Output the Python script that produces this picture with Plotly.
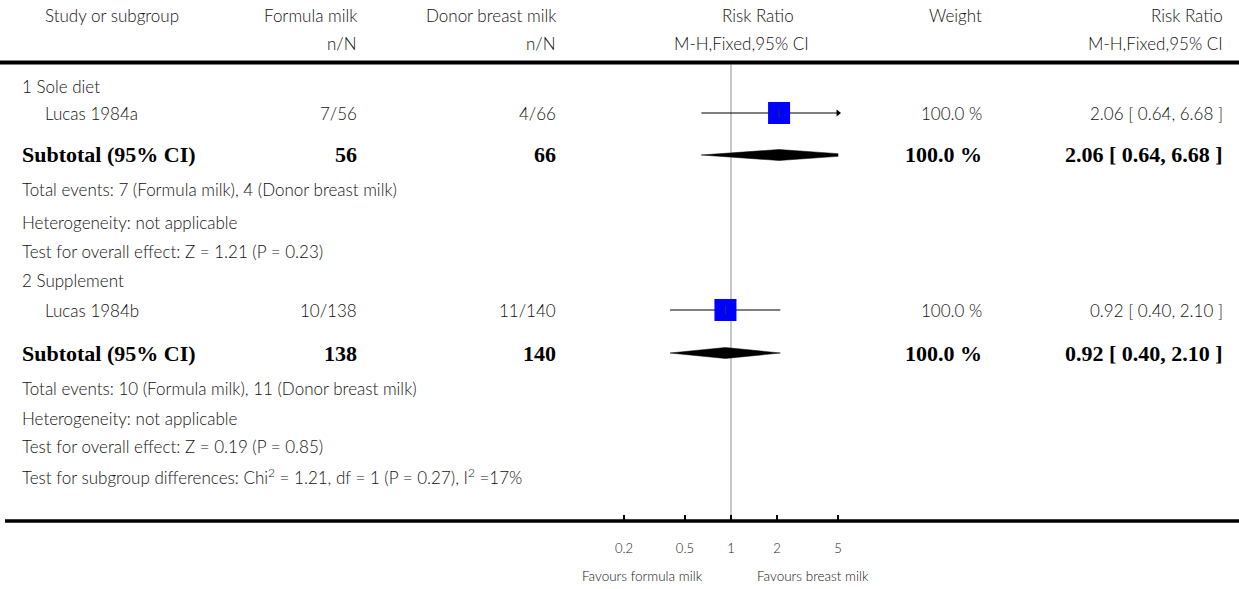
import math
import plotly.graph_objects as go

# ---------------- data ----------------
studies = ["Lucas 1984a", "Lucas 1984b"]
subgroups = ["1 Sole diet", "2 Supplement"]
formula_events = [7, 10]
formula_total = [56, 138]
donor_events = [4, 11]
donor_total = [66, 140]
rr = [2.06, 0.92]
ci_low = [0.64, 0.40]
ci_high = [6.68, 2.10]
weights = [100.0, 100.0]
sub_rr = [2.06, 0.92]
sub_low = [0.64, 0.40]
sub_high = [6.68, 2.10]
sub_weight = [100.0, 100.0]
heterogeneity = ["Heterogeneity: not applicable", "Heterogeneity: not applicable"]
overall_effect = ["Test for overall effect: Z = 1.21 (P = 0.23)",
                  "Test for overall effect: Z = 0.19 (P = 0.85)"]
subgroup_test = "Test for subgroup differences: Chi<sup>2</sup> = 1.21, df = 1 (P = 0.27), I<sup>2</sup> =17%"
tick_vals = [0.2, 0.5, 1, 2, 5]
tick_text = ["0.2", "0.5", "1", "2", "5"]
x_min, x_max = 0.2, 5
label_left = "Favours formula milk"
label_right = "Favours breast milk"

# ---------------- layout (pixels) ----------------
W, H = 1239, 589
AXIS_Y = 521
TOP_LINE_Y = 62.5
block_rows = [
    dict(head=87, study=113, sub=155, events=190, het=222, eff=251),
    dict(head=281, study=310, sub=353, events=388, het=418, eff=447),
]
SUBTEST_Y = 476
FAV_Y = 576

COL_X_LEFT = 20
COL_X_INDENT = 43
COL_FORM_R = 359
COL_DONOR_R = 558
COL_WEIGHT_R = 984
COL_RR_R = 1225

FONT = "Lato"
BOLD = "Liberation Serif"
TXT = "#111111"
FS = 17
FSB = 22

fig = go.Figure()
annots = []


def T(text, xpx, ypx, anchor="left", size=FS, family=FONT, color=TXT):
    annots.append(dict(text=text, x=xpx / W, xref="paper", y=1 - ypx / H, yref="paper",
                       xanchor=anchor, yanchor="middle", showarrow=False,
                       font=dict(family=family, size=size, color=color, weight=300)))


def TB(text, xpx, ypx, anchor="left"):
    annots.append(dict(text=f"<b>{text}</b>", x=xpx / W, xref="paper", y=1 - ypx / H, yref="paper",
                       xanchor=anchor, yanchor="middle", showarrow=False,
                       font=dict(family=BOLD, size=FSB, color="black")))


# headers
T("Study or subgroup", COL_X_INDENT, 15)
T("Formula milk", COL_FORM_R, 15, "right")
T("Donor breast milk", COL_DONOR_R, 15, "right")
T("Risk Ratio", 758, 15, "center")
T("Weight", COL_WEIGHT_R, 15, "right")
T("Risk Ratio", COL_RR_R, 15, "right")
T("n/N", COL_FORM_R, 43, "right")
T("n/N", COL_DONOR_R, 43, "right")
T("M-H,Fixed,95% CI", 741, 43, "center")
T("M-H,Fixed,95% CI", COL_RR_R, 43, "right")

# reference line at RR = 1
fig.add_shape(type="line", xref="x", yref="y", x0=1, x1=1, y0=TOP_LINE_Y + 2, y1=AXIS_Y,
              line=dict(color="#b5b5b5", width=1.5), layer="below")

SQ_MAX = 22
DIA_H = 5.5


def clip(v):
    return min(max(v, x_min), x_max)


for i, rows in enumerate(block_rows):
    T(subgroups[i], COL_X_LEFT, rows["head"])
    T(studies[i], COL_X_INDENT, rows["study"])
    T(f"{formula_events[i]}/{formula_total[i]}", COL_FORM_R, rows["study"], "right")
    T(f"{donor_events[i]}/{donor_total[i]}", COL_DONOR_R, rows["study"], "right")
    T(f"{weights[i]:.1f} %", COL_WEIGHT_R, rows["study"], "right")
    T(f"{rr[i]:.2f} [ {ci_low[i]:.2f}, {ci_high[i]:.2f} ]", COL_RR_R, rows["study"], "right")

    # CI line, cut at the ends of the scale
    fig.add_trace(go.Scatter(x=[clip(ci_low[i]), clip(ci_high[i])], y=[rows["study"]] * 2,
                             mode="lines", line=dict(color="black", width=1.2),
                             hoverinfo="skip", showlegend=False))
    size = SQ_MAX * math.sqrt(weights[i] / 100.0)
    fig.add_trace(go.Scatter(x=[rr[i]], y=[rows["study"]], mode="markers",
                             marker=dict(symbol="square", size=size, color="#0000ff",
                                         line=dict(width=0)),
                             hoverinfo="skip", showlegend=False))
    fig.add_trace(go.Scatter(x=[rr[i]], y=[rows["study"]], mode="markers",
                             marker=dict(symbol="line-ns", size=6,
                                         line=dict(width=1, color="#333333")),
                             hoverinfo="skip", showlegend=False))
    if ci_high[i] > x_max:
        fig.add_trace(go.Scatter(x=[x_max], y=[rows["study"]], mode="markers", cliponaxis=False,
                                 marker=dict(symbol="triangle-right", size=6, color="black"),
                                 hoverinfo="skip", showlegend=False))
    if ci_low[i] < x_min:
        fig.add_trace(go.Scatter(x=[x_min], y=[rows["study"]], mode="markers", cliponaxis=False,
                                 marker=dict(symbol="triangle-left", size=6, color="black"),
                                 hoverinfo="skip", showlegend=False))

    TB("Subtotal (95% CI)", COL_X_LEFT, rows["sub"])
    TB(f"{formula_total[i]}", COL_FORM_R, rows["sub"], "right")
    TB(f"{donor_total[i]}", COL_DONOR_R, rows["sub"], "right")
    TB(f"{sub_weight[i]:.1f} %", COL_WEIGHT_R, rows["sub"], "right")
    TB(f"{sub_rr[i]:.2f} [ {sub_low[i]:.2f}, {sub_high[i]:.2f} ]", COL_RR_R, rows["sub"], "right")

    # diamond, cut at the ends of the scale (in log space)
    y0 = rows["sub"]
    lo, est, hi = (math.log10(v) for v in (sub_low[i], sub_rr[i], sub_high[i]))
    lmin, lmax = math.log10(x_min), math.log10(x_max)
    xs, ys = [], []
    # upper edge left->right then lower edge right->left
    def half(xl):
        if xl <= est:
            return DIA_H * (xl - lo) / (est - lo)
        return DIA_H * (hi - xl) / (hi - est)
    xl_lo, xl_hi = max(lo, lmin), min(hi, lmax)
    pts_top = [xl_lo, est, xl_hi]
    top = [(x, y0 - half(x)) for x in pts_top]
    bot = [(x, y0 + half(x)) for x in reversed(pts_top)]
    poly = top + bot + [top[0]]
    fig.add_trace(go.Scatter(x=[10 ** p[0] for p in poly], y=[p[1] for p in poly],
                             mode="lines", fill="toself", fillcolor="black",
                             line=dict(color="black", width=0.5),
                             hoverinfo="skip", showlegend=False))

    T(f"Total events: {formula_events[i]} (Formula milk), {donor_events[i]} (Donor breast milk)",
      COL_X_LEFT, rows["events"])
    T(heterogeneity[i], COL_X_LEFT, rows["het"])
    T(overall_effect[i], COL_X_LEFT, rows["eff"])

T(subgroup_test, COL_X_LEFT, SUBTEST_Y)

# horizontal rules
fig.add_shape(type="line", xref="paper", yref="paper", x0=0, x1=1,
              y0=1 - TOP_LINE_Y / H, y1=1 - TOP_LINE_Y / H, line=dict(color="black", width=4))
fig.add_shape(type="line", xref="paper", yref="paper", x0=5 / W, x1=1,
              y0=1 - AXIS_Y / H, y1=1 - AXIS_Y / H, line=dict(color="black", width=3.5))

T(label_left, 642, FAV_Y, "center", size=13.5)
T(label_right, 813, FAV_Y, "center", size=13.5)

eps = 0.0095  # ~1.5 px so the end ticks are drawn
fig.update_layout(
    width=W, height=H, autosize=False,
    margin=dict(l=0, r=0, t=0, b=0, pad=0),
    paper_bgcolor="white", plot_bgcolor="rgba(0,0,0,0)",
    annotations=annots,
    xaxis=dict(type="log", domain=[(624 - 1.5) / W, (838 + 1.5) / W],
               range=[math.log10(x_min) - eps, math.log10(x_max) + eps],
               tickvals=tick_vals, ticktext=tick_text,
               ticks="inside", ticklen=6, tickwidth=2, tickcolor="black",
               showgrid=False, zeroline=False, showline=False, automargin=False,
               tickfont=dict(family=FONT, size=13, color="#222", weight=300),
               ticklabelstandoff=18, fixedrange=True),
    yaxis=dict(domain=[(H - AXIS_Y) / H, 1], range=[AXIS_Y, 0], automargin=False,
               visible=False, showgrid=False, zeroline=False, fixedrange=True),
    showlegend=False,
)

fig.write_html(
    "out.html",
    config={"responsive": False, "displayModeBar": False},
    post_script="document.body.style.margin='0';document.body.style.overflow='hidden';",
)
